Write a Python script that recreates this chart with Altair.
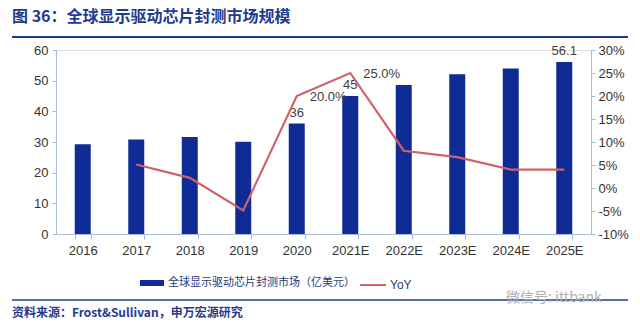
import altair as alt
import pandas as pd

years = ["2016", "2017", "2018", "2019", "2020", "2021E", "2022E", "2023E", "2024E", "2025E"]
market = [29.3, 30.8, 31.6, 30.1, 36.0, 45.0, 48.6, 52.1, 54.0, 56.1]
yoy = [None, 5.1, 2.2, -4.9, 20.0, 25.0, 8.1, 6.7, 4.0, 4.0]
bar_labels = ["", "", "", "", "36", "45", "", "", "", "56.1"]
yoy_labels = ["", "", "", "", "20.0%", "25.0%", "", "", "", ""]

bar_name = "全球显示驱动芯片封测市场（亿美元）"
line_name = "YoY"
title_text = "图 36：全球显示驱动芯片封测市场规模"
source_text = "资料来源：Frost&Sullivan，申万宏源研究"
watermark_text = "微信号: ittbank"

df = pd.DataFrame({
    "year": years,
    "market": market,
    "yoy": yoy,
    "bar_label": bar_labels,
    "yoy_label": yoy_labels,
    "bar_series": bar_name,
    "line_series": line_name,
})

FONT = "Liberation Sans, Noto Sans CJK SC"
CJK = "Noto Sans CJK SC"
NAVY = "#0F2C96"
RED = "#D0606A"
AXIS = "#A9BCD6"
LABEL = "#333333"
HEAD = "#1F3B8F"

x_enc = alt.X(
    "year:N",
    sort=years,
    scale=alt.Scale(paddingInner=0.7, paddingOuter=0.35),
    axis=alt.Axis(
        title=None, labelAngle=0, tickBand="extent", domainColor=AXIS, tickColor=AXIS,
        tickSize=5, labelPadding=5, labelFontSize=13, labelColor=LABEL, labelFont=FONT, grid=False,
    ),
)
x_line = alt.X("year:N", sort=years, bandPosition=0.5)

left_scale = alt.Scale(domain=[0, 60], nice=False, zero=True)
right_scale = alt.Scale(domain=[-10, 30], nice=False, zero=False)
left_axis = alt.Axis(
    title=None, values=list(range(0, 61, 10)), domainColor=AXIS, tickColor=AXIS,
    tickSize=4, labelPadding=4, labelFontSize=13, labelColor=LABEL, labelFont=FONT, grid=False,
)
right_axis = alt.Axis(
    title=None, orient="right", values=list(range(-10, 31, 5)), labelExpr="datum.value + '%'",
    domainColor=AXIS, tickColor=AXIS, tickSize=4, labelPadding=3, labelFontSize=13,
    labelColor=LABEL, labelFont=FONT, grid=False,
)

bars = alt.Chart(df).mark_bar(size=16).encode(
    x=x_enc,
    y=alt.Y("market:Q", scale=left_scale, axis=left_axis),
    color=alt.Color("bar_series:N", scale=alt.Scale(domain=[bar_name], range=[NAVY]), legend=alt.Legend(
        orient="none", legendX=84, legendY=221, title=None,
        symbolType="M-1,-0.25H1V0.25H-1Z", symbolSize=576, symbolStrokeWidth=0,
        labelFont=CJK, labelFontSize=11, labelColor="#1F3A7A", labelLimit=400, labelOffset=4,
    )),
)
bar_text = alt.Chart(df).mark_text(baseline="bottom", dy=-4, fontSize=13, color="#404040", font=FONT).encode(
    x=x_line,
    y=alt.Y("market:Q", scale=left_scale, axis=left_axis),
    text="bar_label:N",
)

line = alt.Chart(df).mark_line(strokeWidth=2.2).encode(
    x=x_line,
    y=alt.Y("yoy:Q", scale=right_scale, axis=right_axis),
    stroke=alt.Stroke("line_series:N", scale=alt.Scale(domain=[line_name], range=[RED]), legend=alt.Legend(
        orient="none", legendX=303, legendY=221, title=None,
        symbolType="stroke", symbolSize=676, symbolStrokeWidth=2,
        labelFont=FONT, labelFontSize=12, labelColor="#1F3A7A", labelOffset=3,
    )),
)
line_text = alt.Chart(df).mark_text(align="left", baseline="middle", dx=13, dy=1, fontSize=13, color="#404040", font=FONT).encode(
    x=x_line,
    y=alt.Y("yoy:Q", scale=right_scale, axis=right_axis),
    text="yoy_label:N",
)

one = pd.DataFrame({"a": [1]})
title = alt.Chart(one).mark_text(align="left", baseline="middle", fontSize=16, fontWeight="bold", font=CJK, color=HEAD, text=title_text).encode(
    x=alt.value(-44), y=alt.value(-33))
title_rule = alt.Chart(one).mark_rule(color=HEAD, strokeWidth=2).encode(
    x=alt.value(-44), x2=alt.value(572), y=alt.value(-13))
foot_rule = alt.Chart(one).mark_rule(color=HEAD, strokeWidth=1.5).encode(
    x=alt.value(-44), x2=alt.value(572), y=alt.value(250))
foot = alt.Chart(one).mark_text(align="left", baseline="middle", fontSize=12, fontWeight="bold", font=CJK, color=HEAD, text=source_text).encode(
    x=alt.value(-44), y=alt.value(263))
mark = alt.Chart(one).mark_text(align="left", baseline="middle", fontSize=14, font=CJK, color="#B0B0B0", text=watermark_text).encode(
    x=alt.value(450), y=alt.value(248))

chart = alt.layer(
    alt.layer(bars, bar_text),
    alt.layer(line, line_text),
    alt.layer(title, title_rule, foot_rule, foot, mark),
).resolve_scale(y="independent", color="independent", stroke="independent").properties(
    width=535, height=184,
    autosize=alt.AutoSizeParams(type="none"),
    padding={"left": 56, "top": 50, "right": 49, "bottom": 92},
).configure_view(stroke=None).configure(background="white")

chart.save("out.html", embed_options={"renderer": "svg", "actions": False})
